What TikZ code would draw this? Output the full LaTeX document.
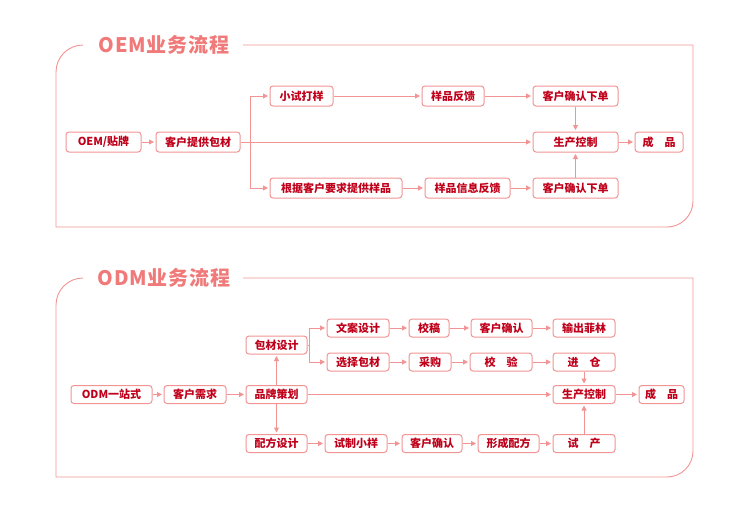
\documentclass[tikz,border=0pt]{standalone}
\usepackage{fontspec}
\newfontfamily\cjk{Noto Sans CJK SC}
\newfontfamily\ttlfont{Noto Sans CJK SC}[LetterSpace=4]
\usetikzlibrary{arrows.meta}

\definecolor{lnpink}{HTML}{F29494}
\definecolor{txtred}{HTML}{C0001A}
\definecolor{ttlpink}{HTML}{F07A7A}

\begin{document}
\begin{tikzpicture}[x=1pt, y=-1pt,
  panel/.style={draw=lnpink, line width=0.9pt},
  ttl/.style={text=ttlpink, font=\ttlfont\bfseries\fontsize{20}{23}\selectfont, inner sep=0pt},
  box/.style={draw=lnpink, line width=1pt, rounded corners=3pt, fill=white,
    text=txtred, font=\cjk\bfseries\fontsize{11}{13}\selectfont, inner sep=0pt},
  obox/.style={box, minimum height=20pt},
  dbox/.style={box, minimum height=18pt},
  link/.style={draw=lnpink, line width=1pt},
  flow/.style={link, -{Triangle[length=5pt, width=5pt]}, shorten >=1.5pt}]
  \useasboundingbox (0,0) rectangle (752,514);

  % ---------- OEM 面板 ----------
  \draw[panel] (243,45) -- (693,45) -- (693,201)
    arc[start angle=0, end angle=90, radius=26] -- (56,227) -- (56,72)
    arc[start angle=180, end angle=270, radius=27];
  \node[ttl] (oTitle) at (164,45) {OEM业务流程};

  \node[obox, minimum width=75pt] (oStart) at (103.5,142) {OEM/贴牌};
  \node[obox, minimum width=84pt] (oPack) at (198,142) {客户提供包材};
  \node[obox, minimum width=63pt] (oTrial) at (301.5,96) {小试打样};
  \node[obox, minimum width=132pt] (oSample) at (336,188) {根据客户要求提供样品};
  \node[obox, minimum width=62pt] (oFeed) at (453,96) {样品反馈};
  \node[obox, minimum width=85pt] (oInfo) at (467.5,188) {样品信息反馈};
  \node[obox, minimum width=85pt] (oOrderA) at (575.5,96) {客户确认下单};
  \node[obox, minimum width=85pt] (oOrderB) at (575.5,188) {客户确认下单};
  \node[obox, minimum width=85pt] (oProd) at (575.5,142) {生产控制};
  \node[obox, minimum width=48pt] (oDone) at (659,142) {成\hspace{1em}品};

  % 分叉点
  \coordinate (oSplit) at (250,142);

  \draw[flow] (oStart) -- (oPack);
  \draw[flow] (oPack) -- (oProd);
  \draw[flow] (oSplit) |- (oTrial);
  \draw[flow] (oSplit) |- (oSample);
  \draw[flow] (oTrial) -- (oFeed);
  \draw[flow] (oFeed) -- (oOrderA);
  \draw[flow] (oSample) -- (oInfo);
  \draw[flow] (oInfo) -- (oOrderB);
  \draw[flow] (oOrderA) -- (oProd);
  \draw[flow] (oOrderB) -- (oProd);
  \draw[flow] (oProd) -- (oDone);

  % ---------- ODM 面板 ----------
  \draw[panel] (243,278) -- (693,278) -- (693,451)
    arc[start angle=0, end angle=90, radius=26] -- (56,477) -- (56,305)
    arc[start angle=180, end angle=270, radius=27];
  \node[ttl] (dTitle) at (164,278) {ODM业务流程};

  \node[dbox, minimum width=81pt] (dStart) at (111.5,394.5) {ODM一站式};
  \node[dbox, minimum width=62pt] (dNeed) at (195,394.5) {客户需求};
  \node[dbox, minimum width=61pt] (dBrand) at (276.5,394.5) {品牌策划};
  \node[dbox, minimum width=61pt] (dPack) at (276.5,345) {包材设计};
  \node[dbox, minimum width=61pt] (dForm) at (276.5,443.5) {配方设计};

  \node[dbox, minimum width=62pt] (dCopy) at (358,328) {文案设计};
  \node[dbox, minimum width=40pt] (dProof) at (429,328) {校稿};
  \node[dbox, minimum width=61pt] (dOkA) at (501.5,328) {客户确认};
  \node[dbox, minimum width=62pt] (dFilm) at (584,328) {输出菲林};

  \node[dbox, minimum width=62pt] (dMat) at (358,362) {选择包材};
  \node[dbox, minimum width=42pt] (dBuy) at (430,362) {采购};
  \node[dbox, minimum width=62pt] (dCheck) at (501,362) {校\hspace{1em}验};
  \node[dbox, minimum width=62pt] (dStore) at (584,362) {进\hspace{1em}仓};

  \node[dbox, minimum width=62pt] (dProd) at (584,394.5) {生产控制};
  \node[dbox, minimum width=45pt] (dDone) at (661.5,394.5) {成\hspace{1em}品};

  \node[dbox, minimum width=62pt] (dSmall) at (356,443.5) {试制小样};
  \node[dbox, minimum width=60pt] (dOkB) at (432,443.5) {客户确认};
  \node[dbox, minimum width=61pt] (dRecipe) at (508.5,443.5) {形成配方};
  \node[dbox, minimum width=62pt] (dPilot) at (584,443.5) {试\hspace{1em}产};

  % 分叉点
  \coordinate (dSplit) at (309,345);

  \draw[flow] (dStart) -- (dNeed);
  \draw[flow] (dNeed) -- (dBrand);
  \draw[flow] (dBrand) -- (dPack);
  \draw[flow] (dBrand) -- (dForm);
  \draw[flow] (dBrand) -- (dProd);
  \draw[link] (dPack.east) -- (dSplit);
  \draw[flow] (dSplit) |- (dCopy);
  \draw[flow] (dSplit) |- (dMat);
  \draw[flow] (dCopy) -- (dProof);
  \draw[flow] (dProof) -- (dOkA);
  \draw[flow] (dOkA) -- (dFilm);
  \draw[flow] (dMat) -- (dBuy);
  \draw[flow] (dBuy) -- (dCheck);
  \draw[flow] (dCheck) -- (dStore);
  \draw[flow] (dStore) -- (dProd);
  \draw[flow] (dForm) -- (dSmall);
  \draw[flow] (dSmall) -- (dOkB);
  \draw[flow] (dOkB) -- (dRecipe);
  \draw[flow] (dRecipe) -- (dPilot);
  \draw[flow] (dPilot) -- (dProd);
  \draw[flow] (dProd) -- (dDone);
\end{tikzpicture}
\end{document}
